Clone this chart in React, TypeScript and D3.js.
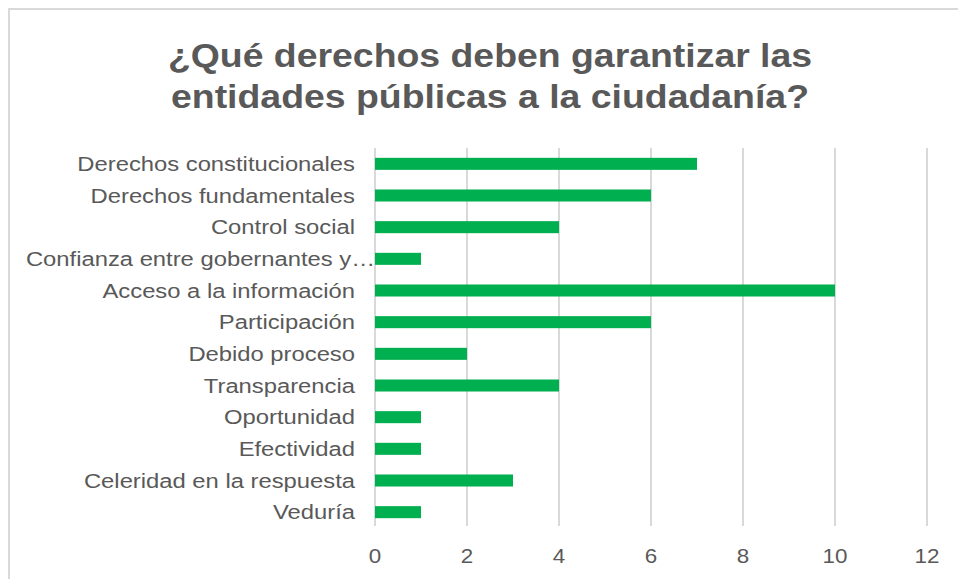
import React from 'react'
import * as d3 from 'd3'

const categories = [
	'Derechos constitucionales',
	'Derechos fundamentales',
	'Control social',
	'Confianza entre gobernantes y…',
	'Acceso a la información',
	'Participación',
	'Debido proceso',
	'Transparencia',
	'Oportunidad',
	'Efectividad',
	'Celeridad en la respuesta',
	'Veduría',
]
const values = [7, 6, 4, 1, 10, 6, 2, 4, 1, 1, 3, 1]
const ticks = [0, 2, 4, 6, 8, 10, 12]
const titleLines = ['¿Qué derechos deben garantizar las', 'entidades públicas a la ciudadanía?']

const width = 958
const height = 579
const font = '"Liberation Sans", Arial, sans-serif'
const textColor = '#595959'

export default function App() {
	const x = d3.scaleLinear().domain([0, 12]).range([375, 927])
	const y = d3.scaleBand<string>()
		.domain(categories)
		.range([148, 528])
		.paddingInner(0.62)
		.paddingOuter(0.31)

	// excel pushes the truncated label right up to the axis
	const labelX = (c: string) => c.endsWith('…') ? x(0) : x(0) - 20

	return (
		<svg width={width} height={height} style={{position: 'absolute', left: 0, top: 0}}>
			<rect x={0} y={0} width={width} height={height} fill="#fff"/>
			<rect x={9} y={9} width={width + 20} height={height + 20} fill="#fff" stroke="#d9d9d9" strokeWidth={2}/>
			{titleLines.map((t, i) => (
				<text key={i} transform={`translate(490,${67 + i * 41}) scale(1.1,1)`} textAnchor="middle" fontFamily={font}
					fontWeight="bold" fontSize={34} fill={textColor}>{t}</text>
			))}
			<g className="grid">
				{ticks.map(t => (
					<line key={t} x1={x(t)} x2={x(t)} y1={148} y2={526} stroke="#d9d9d9" strokeWidth={2}/>
				))}
			</g>
			<g className="bars">
				{categories.map((c, i) => (
					<rect key={c} x={x(0)} y={y(c)} width={x(values[i]) - x(0)} height={y.bandwidth()} fill="#00b050"/>
				))}
			</g>
			<g className="labels">
				{categories.map(c => (
					<text key={c} transform={`translate(${labelX(c)},${(y(c) ?? 0) + y.bandwidth() / 2}) scale(1.19,1)`} dy="0.35em" textAnchor="end"
						fontFamily={font} fontSize={20} fill={textColor}>{c}</text>
				))}
			</g>
			<g className="ticks">
				{ticks.map(t => (
					<text key={t} transform={`translate(${x(t)},563) scale(1.12,1)`} textAnchor="middle" fontFamily={font} fontSize={20} fill={textColor}>{t}</text>
				))}
			</g>
		</svg>
	)
}
